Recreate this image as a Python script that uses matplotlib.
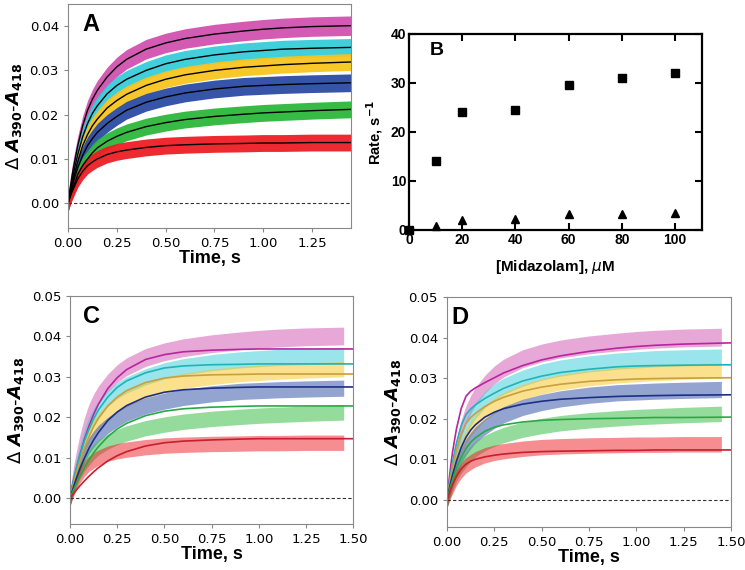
import matplotlib.pyplot as plt
import numpy as np

# time points (s)
t_data = [0, 0.01, 0.02, 0.03, 0.05, 0.075, 0.1, 0.125, 0.15, 0.2, 0.25, 0.3,
          0.4, 0.5, 0.6, 0.75, 0.9, 1.0, 1.1, 1.25, 1.45]
t_fit = [0, 0.01, 0.02, 0.03, 0.05, 0.075, 0.1, 0.125, 0.15, 0.2, 0.25, 0.3,
         0.4, 0.5, 0.6, 0.75, 0.9, 1.0, 1.1, 1.25, 1.5]

# centre of each noisy trace (x1e-3)
trace_magenta = [0, 3, 6, 8.5, 13, 17.5, 21, 23.5, 25.5, 28.5, 30.8, 32.5, 34.8, 36.2, 37.2, 38.2, 38.9, 39.3, 39.6, 39.9, 40.1]
trace_cyan = [0, 2.5, 5, 7.2, 11, 15, 18, 20.3, 22, 24.7, 26.6, 28, 30, 31.5, 32.5, 33.5, 34.2, 34.5, 34.8, 35.0, 35.2]
trace_yellow = [0, 2, 4, 6, 9.5, 13, 15.5, 17.5, 19, 21.5, 23.2, 24.6, 26.6, 28, 29, 30, 30.7, 31, 31.3, 31.6, 31.9]
trace_blue = [0, 1.8, 3.5, 5.2, 8, 10.8, 13, 14.6, 16, 18, 19.6, 21, 22.8, 24, 24.9, 25.8, 26.4, 26.6, 26.8, 27.0, 27.2]
trace_green = [0, 1.4, 2.8, 4, 6.5, 8.5, 10, 11.4, 12.5, 14, 15.1, 16, 17.3, 18.2, 18.9, 19.6, 20.1, 20.4, 20.6, 20.9, 21.2]
trace_red = [0, 1.3, 2.5, 3.5, 5.5, 7.2, 8.5, 9.3, 10, 11, 11.6, 12, 12.6, 13, 13.2, 13.4, 13.5, 13.6, 13.6, 13.7, 13.7]
# scatter half width of each trace (x1e-3)
spread = [2.2, 2.0, 1.9, 2.0, 1.9, 1.9]

# panel A fits (black)
fitA_magenta = trace_magenta
fitA_cyan = trace_cyan
fitA_yellow = trace_yellow
fitA_blue = trace_blue
fitA_green = trace_green
fitA_red = trace_red

# panel C fits (single exponential)
fitC_magenta = [0, 2.4, 4.6, 6.6, 10.3, 14.4, 17.8, 20.7, 23.2, 27.1, 29.8, 31.8, 34.3, 35.5, 36.2, 36.6, 36.8, 36.9, 36.9, 36.9, 36.9]
fitC_cyan = [0, 2.4, 4.6, 6.6, 10.2, 14, 17, 19.6, 21.8, 25, 27.4, 29, 31, 32.2, 32.7, 33.0, 33.1, 33.2, 33.2, 33.2, 33.2]
fitC_yellow = [0, 2, 3.8, 5.6, 8.8, 12.3, 15.2, 17.7, 19.7, 22.8, 25, 26.6, 28.6, 29.7, 30.2, 30.5, 30.6, 30.7, 30.7, 30.7, 30.7]
fitC_blue = [0, 1.5, 3, 4.4, 7, 9.8, 12.3, 14.4, 16.2, 19.2, 21.3, 22.9, 25, 26.2, 26.8, 27.2, 27.4, 27.5, 27.5, 27.5, 27.5]
fitC_green = [0, 1.1, 2.2, 3.2, 5.2, 7.4, 9.4, 11.2, 12.7, 15.2, 17.1, 18.5, 20.4, 21.5, 22.1, 22.5, 22.7, 22.8, 22.8, 22.8, 22.8]
fitC_red = [0, 0.6, 1.2, 1.8, 2.9, 4.2, 5.4, 6.5, 7.5, 9.2, 10.5, 11.5, 12.9, 13.7, 14.1, 14.4, 14.6, 14.7, 14.7, 14.7, 14.7]

# panel D fits (double exponential)
fitD_magenta = [0, 4.5, 8.5, 12, 17.5, 22.5, 25.5, 26.8, 27.6, 28.9, 30.1, 31.3, 33.1, 34.5, 35.5, 36.6, 37.4, 37.8, 38.1, 38.4, 38.7]
fitD_cyan = [0, 3.5, 6.7, 9.5, 14, 18.3, 21, 22.4, 23.4, 25, 26.3, 27.5, 29.3, 30.5, 31.4, 32.2, 32.8, 33, 33.1, 33.2, 33.3]
fitD_yellow = [0, 3, 5.8, 8.3, 12.3, 16.2, 18.8, 20.3, 21.3, 23, 24.3, 25.3, 26.8, 27.8, 28.5, 29.2, 29.6, 29.8, 29.9, 30, 30.1]
fitD_blue = [0, 2.3, 4.4, 6.3, 9.6, 12.9, 15.4, 17.2, 18.5, 20.4, 21.6, 22.5, 23.6, 24.3, 24.8, 25.2, 25.5, 25.6, 25.7, 25.8, 25.9]
fitD_green = [0, 1.8, 3.5, 5, 7.8, 10.5, 12.6, 14.2, 15.3, 16.9, 17.9, 18.5, 19.2, 19.6, 19.8, 20, 20.1, 20.2, 20.3, 20.3, 20.4]
fitD_red = [0, 1.4, 2.7, 3.9, 5.8, 7.6, 8.8, 9.5, 10, 10.6, 11, 11.3, 11.7, 11.9, 12, 12.1, 12.2, 12.2, 12.3, 12.3, 12.3]

# panel B
conc = [0, 10, 20, 40, 60, 80, 100]
rate_fast = [0, 14, 24, 24.5, 29.5, 31, 32]
conc_slow = [10, 20, 40, 60, 80, 100]
rate_slow = [0.8, 2.0, 2.3, 3.3, 3.2, 3.5]

traces = [trace_magenta, trace_cyan, trace_yellow, trace_blue, trace_green, trace_red]
fitsA = [fitA_magenta, fitA_cyan, fitA_yellow, fitA_blue, fitA_green, fitA_red]
fitsC = [fitC_magenta, fitC_cyan, fitC_yellow, fitC_blue, fitC_green, fitC_red]
fitsD = [fitD_magenta, fitD_cyan, fitD_yellow, fitD_blue, fitD_green, fitD_red]

dot_colors = ['#d252b0', '#35cdd9', '#f8c41e', '#2b4ba4', '#2db83b', '#ee1d25']
line_colors = ['#b8259e', '#1fb4b8', '#c8a03c', '#1d2f86', '#27aa46', '#c81e2d']

ylab = r'$\Delta$ $\mathbfit{A}_{\mathbf{390}}$-$\mathbfit{A}_{\mathbf{418}}$'

fig = plt.figure(figsize=(7.45, 5.7), dpi=100)


def trace_panel(ax, fits, tf, fcolors, xmax, ylim, alpha, lw):
    for tr, sp, c in zip(traces, spread, dot_colors):
        y = np.array(tr) / 1000
        ax.fill_between(t_data, y - sp / 1000, y + sp / 1000, color=c,
                        alpha=alpha, lw=0)
    for f, c in zip(fits, fcolors):
        ax.plot(tf, np.array(f) / 1000, color=c, lw=lw)
    ax.axhline(0, color='#333333', ls='--', lw=0.8, dashes=(3, 2))
    ax.set_xlim(0, xmax)
    ax.set_ylim(*ylim)
    for s in ax.spines.values():
        s.set_color('#888888')
    ax.tick_params(labelsize=9.5, length=3, color='#888888')
    ax.set_xlabel('Time, s', fontsize=13, fontweight='bold', family='Liberation Sans', labelpad=0)
    ax.set_ylabel(ylab, fontsize=13, labelpad=4)


# A
axA = fig.add_axes([0.0913, 0.6, 0.380, 0.393])
trace_panel(axA, fitsA, t_data, ['black'] * 6, 1.45, (-0.0056, 0.045), 0.95, 1.0)
axA.set_xticks([0, 0.25, 0.5, 0.75, 1.0, 1.25])
axA.set_yticks([0, 0.01, 0.02, 0.03, 0.04])
axA.text(0.05, 0.96, 'A', transform=axA.transAxes, fontsize=17, fontweight='bold',
         family='Liberation Sans', va='top')

# C
axC = fig.add_axes([0.094, 0.0807, 0.380, 0.4])
trace_panel(axC, fitsC, t_fit, line_colors, 1.5, (-0.0064, 0.05), 0.5, 1.2)
axC.set_xticks(np.arange(0, 1.51, 0.25))
axC.set_yticks([0, 0.01, 0.02, 0.03, 0.04, 0.05])
axC.text(0.045, 0.96, 'C', transform=axC.transAxes, fontsize=17, fontweight='bold',
         family='Liberation Sans', va='top')

# D
axD = fig.add_axes([0.600, 0.0754, 0.381, 0.4035])
trace_panel(axD, fitsD, t_fit, line_colors, 1.5, (-0.0067, 0.05), 0.5, 1.2)
axD.set_xticks(np.arange(0, 1.51, 0.25))
axD.set_yticks([0, 0.01, 0.02, 0.03, 0.04, 0.05])
axD.text(0.015, 0.96, 'D', transform=axD.transAxes, fontsize=17, fontweight='bold',
         family='Liberation Sans', va='top')

# B
axB = fig.add_axes([0.549, 0.5965, 0.393, 0.344])
axB.plot(conc, rate_fast, 's', color='black', ms=5.5, clip_on=False)
axB.plot(conc_slow, rate_slow, '^', color='black', ms=5.5, clip_on=False)
axB.set_xlim(0, 110)
axB.set_ylim(0, 40)
axB.set_xticks([0, 20, 40, 60, 80, 100])
axB.set_yticks([0, 10, 20, 30, 40])
for s in axB.spines.values():
    s.set_linewidth(1.6)
axB.tick_params(direction='in', top=True, right=True, length=5, width=1.5, pad=2)
for lab in axB.get_xticklabels() + axB.get_yticklabels():
    lab.set_fontweight('bold')
    lab.set_family('Liberation Sans')
    lab.set_fontsize(10)
axB.set_xlabel(r'[Midazolam], $\mathit{\mu}$M', fontsize=11, fontweight='bold',
               family='Liberation Sans', labelpad=8)
axB.set_ylabel(r'Rate, s$^{\mathbf{-1}}$', fontsize=10.5, fontweight='bold',
               family='Liberation Sans', labelpad=4)
axB.text(0.07, 0.96, 'B', transform=axB.transAxes, fontsize=14, fontweight='bold',
         family='Liberation Sans', va='top')

fig.savefig('out.png', dpi=100)
